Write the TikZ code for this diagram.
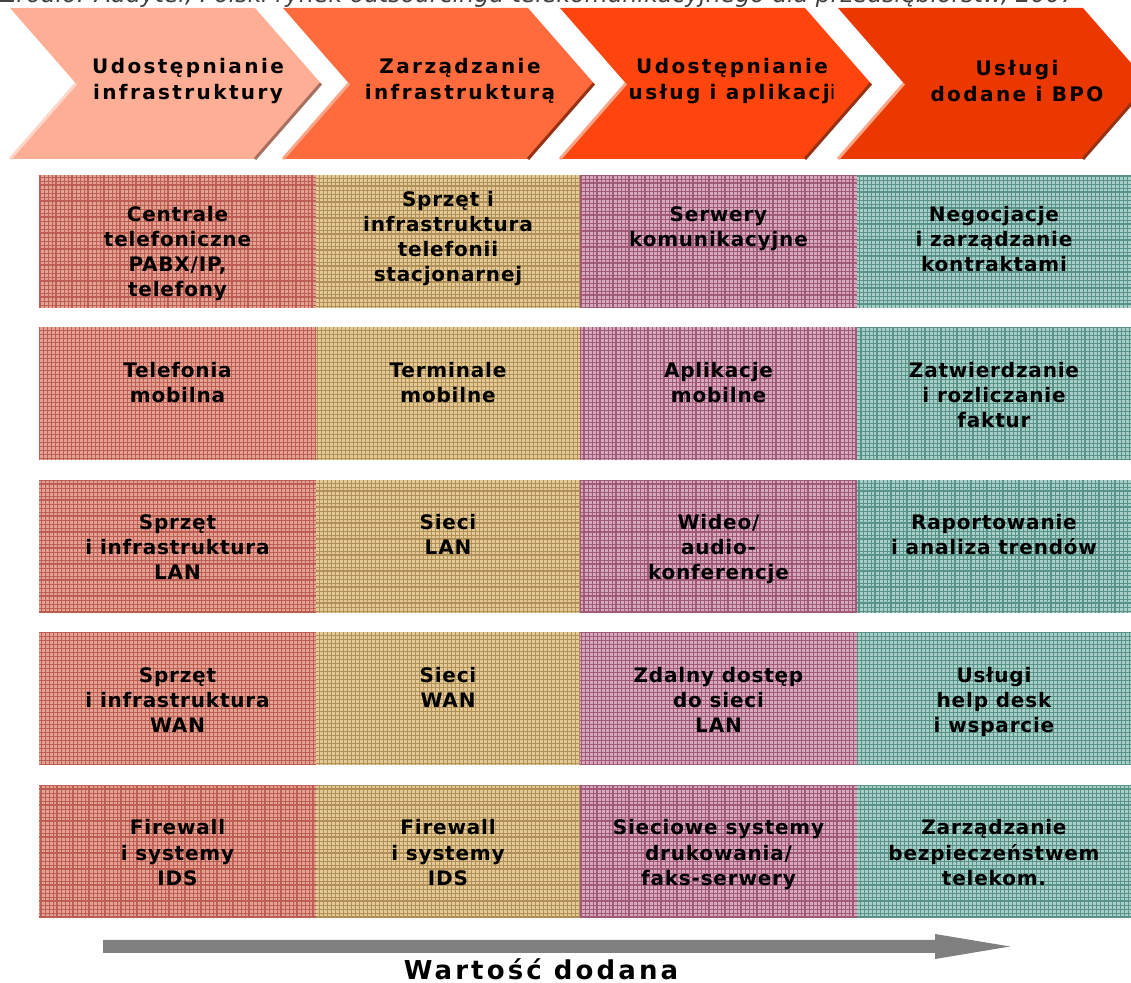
\documentclass[tikz,border=0pt]{standalone}
\usepackage{fontspec}
\setmainfont{DejaVu Sans}
\newfontfamily\cellfont[LetterSpace=4]{DejaVu Sans}
\newfontfamily\headfont[LetterSpace=12]{DejaVu Sans}
\newfontfamily\valuefont[LetterSpace=12]{DejaVu Sans}
\usetikzlibrary{positioning}
\definecolor{chevA}{RGB}{255,174,150}
\definecolor{chevB}{RGB}{255,107,61}
\definecolor{chevC}{RGB}{255,69,14}
\definecolor{chevD}{RGB}{234,56,0}
\definecolor{shadeA}{RGB}{165,112,96}
\definecolor{shadeB}{RGB}{150,50,20}
\definecolor{lightA}{RGB}{255,214,200}
\definecolor{lightB}{RGB}{255,165,135}
\definecolor{redbase}{RGB}{226,162,148}
\definecolor{redline}{RGB}{190,94,82}
\definecolor{tanbase}{RGB}{228,202,150}
\definecolor{tanline}{RGB}{176,144,86}
\definecolor{mauvebase}{RGB}{214,170,188}
\definecolor{mauveline}{RGB}{160,90,120}
\definecolor{tealbase}{RGB}{168,208,200}
\definecolor{tealline}{RGB}{88,146,136}
\definecolor{captiongray}{RGB}{64,64,64}
\definecolor{arrowgray}{RGB}{128,128,128}
\tikzset{
    %Define standard font
    font=\cellfont\bfseries,
    %Define style for chevron texts
    chevtext/.style={
           font=\headfont\bfseries\fontsize{10}{13}\selectfont,
           align=center,
           inner sep=0pt},
    % Define edge styles of the chevrons
    chevshade/.style={line width=1.5pt},
    % Define style for grid cells (#1 = colour prefix)
    cell/.style={
           rectangle, inner sep=0pt, outer sep=0pt,
           minimum height=66.5pt,
           align=center,
           font=\cellfont\bfseries\fontsize{10}{12.5}\selectfont,
           fill=#1base,
           path picture={
             \draw[#1line, line width=0.3pt, step=2pt] (path picture bounding box.south west) grid (path picture bounding box.north east);
             \draw[#1line, line width=0.7pt, step=8pt] (path picture bounding box.south west) grid (path picture bounding box.north east);
           }},
    % Define column widths
    colA/.style={minimum width=138.5pt},
    colB/.style={minimum width=132pt},
    colC/.style={minimum width=138.5pt},
    colD/.style={minimum width=137pt},
    % Define text offsets (baseline of the last line)
    twoline/.style={text height=37.5pt, text depth=29pt},
    threeline/.style={text height=50pt, text depth=16.5pt}
}

\begin{document}
\begin{tikzpicture}[x=0.5pt,y=-0.5pt]
  \clip (0,0) rectangle (1131,983);
  \node[anchor=base west, inner sep=0pt, text=captiongray,
        font=\normalfont\itshape\fontsize{11.8}{13}\selectfont] (Src) at (0,3)
      {Źródło: Audytel, Polski rynek outsourcingu telekomunikacyjnego dla przedsiębiorstw, 2007};

  % chevrons
  \fill[chevA] (10,8) -- (255,8) -- (321,83.5) -- (255,159) -- (10,159) -- (76,83.5) -- cycle;
  \draw[chevshade, shadeA] (321,83.5) -- (255,159);
  \draw[chevshade, lightA] (76,83.5) -- (10,159);
  \fill[chevB] (283,8) -- (528,8) -- (594,83.5) -- (528,159) -- (283,159) -- (349,83.5) -- cycle;
  \draw[chevshade, shadeB] (594,83.5) -- (528,159);
  \draw[chevshade, lightB] (349,83.5) -- (283,159);
  \fill[chevC] (560,8) -- (805,8) -- (871,83.5) -- (805,159) -- (560,159) -- (626,83.5) -- cycle;
  \draw[chevshade, shadeB] (871,83.5) -- (805,159);
  \draw[chevshade, lightB] (626,83.5) -- (560,159);
  \fill[chevD] (838,8) -- (1083,8) -- (1149,83.5) -- (1083,159) -- (838,159) -- (904,83.5) -- cycle;
  \draw[chevshade, shadeB] (1149,83.5) -- (1083,159);
  \draw[chevshade, lightB] (904,83.5) -- (838,159);
  \node[chevtext] (S1) at (188,81) {Udostępnianie\\infrastruktury};
  \node[chevtext] (S2) at (460,81) {Zarządzanie\\infrastrukturą};
  \node[chevtext] (S3) at (732,81) {Udostępnianie\\usług i aplikacj{\mdseries i}};
  \node[chevtext] (S4) at (1017,81) {Usługi\\dodane i BPO};

  % row 1
  \node[cell=red, colA, text height=61pt, text depth=5.5pt, anchor=north west] (A1) at (39,175) {Centrale\\telefoniczne\\PABX/IP,\\telefony};
  \node[cell=tan, colB, text height=53.5pt, text depth=13pt] (B1) [right=0pt of A1] {Sprzęt i\\infrastruktura\\telefonii\\stacjonarnej};
  \node[cell=mauve, colC, text height=36pt, text depth=30.5pt] (C1) [right=0pt of B1] {Serwery\\komunikacyjne};
  \node[cell=teal, colD, text height=48.5pt, text depth=18pt] (D1) [right=0pt of C1] {Negocjacje\\i zarządzanie\\kontraktami};
  % row 2
  \node[cell=red, colA, twoline] (A2) [below=9.75pt of A1] {Telefonia\\mobilna};
  \node[cell=tan, colB, twoline] (B2) [right=0pt of A2] {Terminale\\mobilne};
  \node[cell=mauve, colC, twoline] (C2) [right=0pt of B2] {Aplikacje\\mobilne};
  \node[cell=teal, colD, threeline] (D2) [right=0pt of C2] {Zatwierdzanie\\i rozliczanie\\faktur};
  % row 3
  \node[cell=red, colA, threeline] (A3) [below=9.75pt of A2] {Sprzęt\\i infrastruktura\\LAN};
  \node[cell=tan, colB, twoline] (B3) [right=0pt of A3] {Sieci\\LAN};
  \node[cell=mauve, colC, threeline] (C3) [right=0pt of B3] {Wideo/\\audio-\\konferencje};
  \node[cell=teal, colD, twoline] (D3) [right=0pt of C3] {Raportowanie\\i analiza trendów};
  % row 4
  \node[cell=red, colA, threeline] (A4) [below=9.75pt of A3] {Sprzęt\\i infrastruktura\\WAN};
  \node[cell=tan, colB, twoline] (B4) [right=0pt of A4] {Sieci\\WAN};
  \node[cell=mauve, colC, threeline] (C4) [right=0pt of B4] {Zdalny dostęp\\do sieci\\LAN};
  \node[cell=teal, colD, threeline] (D4) [right=0pt of C4] {Usługi\\help desk\\i wsparcie};
  % row 5
  \node[cell=red, colA, threeline] (A5) [below=9.75pt of A4] {Firewall\\i systemy\\IDS};
  \node[cell=tan, colB, threeline] (B5) [right=0pt of A5] {Firewall\\i systemy\\IDS};
  \node[cell=mauve, colC, threeline] (C5) [right=0pt of B5] {Sieciowe systemy\\drukowania/\\faks-serwery};
  \node[cell=teal, colD, threeline] (D5) [right=0pt of C5] {Zarządzanie\\bezpieczeństwem\\telekom.};

  % value arrow
  \fill[arrowgray] (103,940) -- (935,940) -- (935,934) -- (1010,946.5) -- (935,959) -- (935,953) -- (103,953) -- cycle;
  \node[anchor=base, inner sep=0pt, font=\valuefont\bfseries\fontsize{13}{15}\selectfont] (W) at (541,979) {Wartość dodana};
\end{tikzpicture}
\end{document}
